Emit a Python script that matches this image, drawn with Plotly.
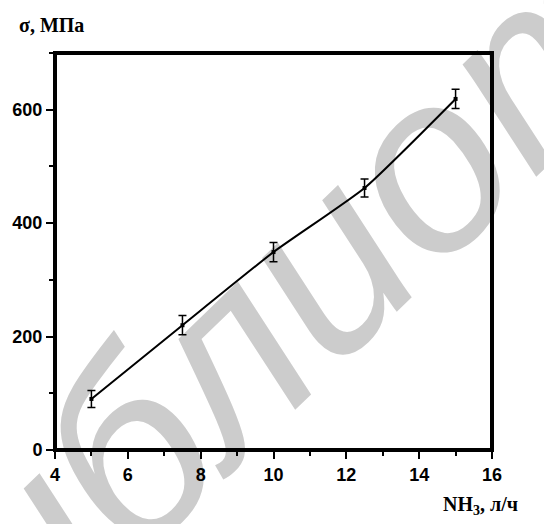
import plotly.graph_objects as go

# Ammonia flow rate, l/h
nh3_flow = [5, 7.5, 10, 12.5, 15]
# Stress, MPa, and its error
stress = [90, 220, 349, 462, 619]
stress_err = [15, 17, 17, 16, 17]

x_ticks = [4, 6, 8, 10, 12, 14, 16]
y_ticks = [0, 200, 400, 600]
x_range = [4, 16]
y_range = [0, 700]

fig = go.Figure()

# box outline along the axis limits
fig.add_trace(go.Scatter(
    x=[x_range[0], x_range[0], x_range[1], x_range[1], x_range[0]],
    y=[y_range[0], y_range[1], y_range[1], y_range[0], y_range[0]],
    mode="lines", line=dict(color="black", width=4),
    hoverinfo="skip", showlegend=False,
))

fig.add_trace(go.Scatter(
    x=nh3_flow,
    y=stress,
    mode="lines+markers",
    line=dict(color="black", width=2, shape="spline", smoothing=0.5),
    marker=dict(symbol="square", size=4, color="black"),
    error_y=dict(type="data", array=stress_err, visible=True,
                 color="black", thickness=1.5, width=4),
    showlegend=False,
))

axis_common = dict(
    showline=True, linecolor="black", linewidth=2, mirror=True,
    ticks="outside", ticklen=7, tickwidth=2, tickcolor="black",
    showgrid=False, zeroline=False,
    tickfont=dict(family="Liberation Sans, Arial", size=18, color="black"),
)

fig.update_xaxes(
    range=x_range, tickvals=x_ticks, ticktext=[f"<b>{v}</b>" for v in x_ticks],
    minor=dict(ticks="outside", ticklen=4, tickwidth=2, tickcolor="black", dtick=1, tick0=4),
    **axis_common,
)
fig.update_yaxes(
    range=y_range, tickvals=y_ticks, ticktext=[f"<b>{v}</b>" for v in y_ticks],
    minor=dict(ticks="outside", ticklen=4, tickwidth=2, tickcolor="black", dtick=100, tick0=0),
    **axis_common,
)

serif = dict(family="Liberation Serif, Times New Roman", size=20, color="black")

fig.add_annotation(
    text="<b>σ, MПа</b>", xref="paper", yref="paper", x=-0.088, y=1.07,
    xanchor="left", yanchor="middle", showarrow=False, font=serif,
)
fig.add_annotation(
    text="<b>NH<sub>3</sub>, л/ч</b>", xref="paper", yref="paper", x=1.063, y=-0.141,
    xanchor="right", yanchor="middle", showarrow=False, font=serif,
)

# library watermark, placed beneath the plot contents
wm_x, wm_y = 0.73, 0.68
fig.add_shape(
    type="rect", xref="paper", yref="paper",
    x0=wm_x - 0.001, x1=wm_x + 0.001, y0=wm_y - 0.001, y1=wm_y + 0.001,
    line=dict(width=0), fillcolor="rgba(0,0,0,0)", layer="below",
    label=dict(
        text="<i>библиотека</i>", textposition="middle center", textangle=-44,
        font=dict(family="Liberation Sans Narrow, Liberation Sans", size=250,
                  color="#cccccc"),
    ),
)

fig.update_layout(
    width=544, height=524,
    margin=dict(l=50, r=52, t=53, b=74),
    paper_bgcolor="white", plot_bgcolor="rgba(0,0,0,0)",
)

fig.write_html("out.html")
